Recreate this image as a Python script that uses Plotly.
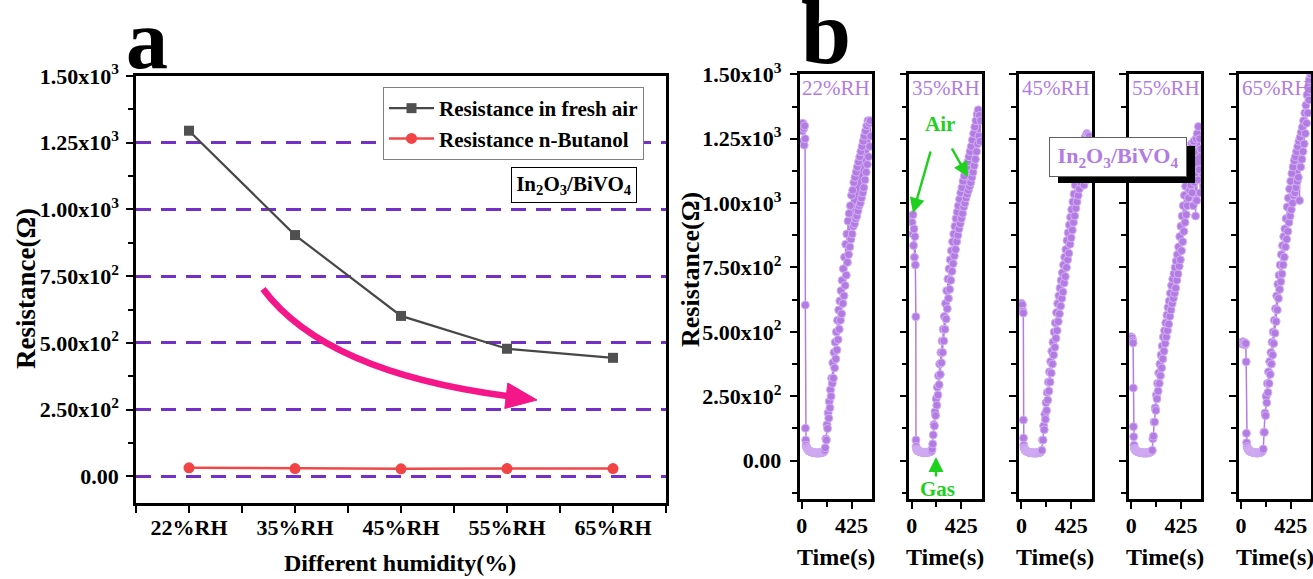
import plotly.graph_objects as go

# ---------------- data ----------------
humidity = ["22%RH", "35%RH", "45%RH", "55%RH", "65%RH"]
r_fresh_air = [1295, 904, 601, 478, 444]
r_butanol = [32, 29, 28, 29, 29]

y_tickvals = [0, 250, 500, 750, 1000, 1250, 1500]
y_ticktext = ["0.00", "2.50x10<sup>2</sup>", "5.00x10<sup>2</sup>", "7.50x10<sup>2</sup>",
              "1.00x10<sup>3</sup>", "1.25x10<sup>3</sup>", "1.50x10<sup>3</sup>"]
y_minor_a = [125, 375, 625, 875, 1125, 1375]
y_minor_b = [-125, 125, 375, 625, 875, 1125, 1375]
time_tickvals = [0, 425]
time_minor = [212.5]

# 22 %RH
t_22_air = [0, 4, 8, 12, 16, 20, 24, 28, 30, 31, 33, 36,
            40, 45, 50, 55, 60, 65, 70, 75, 80, 85, 90, 95, 100, 105, 110, 115, 120, 125, 130, 135,
            140, 145, 150, 155, 160, 165, 170, 175, 180, 185, 190, 195]
r_22_air = [1305, 1280, 1310, 1240, 1290, 1225, 1300, 1250, 604, 126, 80, 60,
            52, 47, 44, 41, 39, 37, 36, 35, 34, 33, 33, 32, 32, 31, 31, 31, 30, 30, 30, 30,
            30, 30, 30, 31, 30, 31, 31, 32, 33, 34, 36, 40]
t_22_rec = [200, 205, 210, 215, 220, 225, 230, 235, 240, 245, 250, 255, 260,
            265, 270, 275, 280, 285, 290, 295, 300, 305, 310, 315, 320, 325, 330,
            335, 340, 345, 350, 355, 360, 365, 370, 375, 380, 385, 390,
            395, 400, 405, 410, 415, 420, 425, 430, 435, 440, 445, 450, 455, 460, 465, 470, 475, 480,
            485, 490, 495, 500, 505, 510, 515, 520,
            525, 530, 535, 540, 545, 550, 555, 560, 565, 570, 575, 580, 585, 590]
r_22_rec = [50, 85, 80, 140, 125, 185, 165, 230, 205, 275, 250, 320, 300,
            380, 320, 420, 360, 460, 395, 500, 430, 545, 470, 585, 510, 620, 545,
            660, 570, 700, 610, 745, 640, 790, 680, 840, 720, 880, 770,
            930, 800, 960, 830, 990, 860, 1030, 880, 1050, 910, 1080, 920, 1100, 940, 1120, 950,
            1140, 970, 1160, 990, 1180, 1000, 1200, 1020, 1220, 1040,
            1240, 1060, 1260, 1090, 1280, 1120, 1300, 1150, 1320, 1180, 1310, 1220, 1320, 1260]

# 35 %RH
t_35_air = [0, 4, 8, 12, 16, 20, 24, 28, 32, 36, 37, 39, 42,
            45, 50, 55, 60, 65, 70, 75, 80, 85, 90, 95, 100, 105, 110, 115, 120, 125, 130,
            135, 140, 145, 150, 155, 160, 165, 170, 175, 180]
r_35_air = [950, 925, 880, 955, 835, 900, 790, 870, 760, 559, 80, 55, 46,
            42, 40, 38, 37, 36, 35, 34, 34, 33, 33, 32, 32, 32, 32, 32, 32, 32, 32,
            33, 33, 33, 34, 34, 35, 36, 38, 45, 65]
t_35_rec = [185, 190, 195, 200, 205, 210, 215, 220, 225, 230, 235, 240, 245, 250, 255, 260, 265, 270,
            275, 280, 285, 290, 295, 300, 305, 310, 315, 320, 325, 330,
            335, 340, 345, 350, 355, 360, 365, 370, 375, 380, 385, 390, 395,
            400, 405, 410, 415, 420, 425, 430, 435, 440, 445, 450, 455,
            460, 465, 470, 475, 480, 485, 490, 495, 500, 505, 510, 515,
            520, 525, 530, 535, 540, 545, 550, 555, 560, 565, 570, 575, 580, 585, 590]
r_35_rec = [100, 140, 135, 190, 175, 240, 215, 285, 255, 330, 295, 375, 335, 420, 380, 465, 420, 510,
            465, 560, 510, 610, 550, 660, 590, 705, 630, 745, 665, 780,
            700, 815, 735, 850, 765, 880, 795, 910, 820, 940, 850, 965, 875,
            990, 900, 1015, 920, 1040, 940, 1060, 960, 1085, 985, 1105, 1000,
            1125, 1020, 1140, 1035, 1160, 1050, 1180, 1065, 1200, 1080, 1220, 1100,
            1245, 1120, 1270, 1145, 1295, 1170, 1320, 1200, 1345, 1230, 1362, 1260, 1340, 1240, 1320]

# 45 %RH
t_45_air = [0, 4, 8, 12, 16, 17, 18, 20, 24, 28,
            30, 35, 40, 45, 50, 55, 60, 65, 70, 75, 80, 85, 90, 95, 100, 105, 110, 115, 120,
            125, 130, 135, 140, 145, 150, 155, 160, 165, 170]
r_45_air = [611, 595, 605, 580, 573, 158, 88, 60, 50, 45,
            42, 40, 38, 36, 35, 34, 33, 33, 32, 32, 31, 31, 31, 30, 30, 30, 30, 30, 30,
            30, 30, 30, 31, 31, 31, 32, 33, 35, 38]
t_45_rec = [175, 180, 185, 190, 195, 200, 205, 210, 215, 220, 225, 230, 235, 240, 245, 250, 255, 260,
            265, 270, 275, 280, 285, 290, 295, 300, 305, 310, 315, 320,
            325, 330, 335, 340, 345, 350, 355, 360, 365, 370, 375, 380,
            385, 390, 395, 400, 405, 410, 415, 420, 425, 430, 435, 440,
            445, 450, 455, 460, 465, 470, 475, 480, 485, 490, 495, 500,
            505, 510, 515, 520, 525, 530, 535, 540, 545, 550, 555, 560, 565, 570, 575, 580, 585, 590, 595]
r_45_rec = [40, 80, 80, 135, 120, 180, 160, 225, 195, 265, 235, 305, 270, 345, 305, 385, 340, 425,
            375, 460, 410, 500, 440, 535, 475, 575, 505, 610, 540, 640,
            570, 670, 600, 700, 630, 730, 655, 760, 690, 790, 715, 820,
            750, 855, 780, 885, 805, 915, 840, 945, 865, 975, 895, 1005,
            925, 1035, 950, 1070, 980, 1100, 1005, 1130, 1030, 1150, 1055, 1170,
            1080, 1190, 1100, 1210, 1110, 1230, 1070, 1250, 1130, 1260, 1090, 1270, 1150, 1265, 1180, 1260, 1200, 1240, 1180]

# 55 %RH
t_55_air = [0, 4, 8, 12, 16, 18, 19, 21, 24, 28,
            30, 35, 40, 45, 50, 55, 60, 65, 70, 75, 80, 85, 90, 95, 100, 105, 110, 115, 120,
            125, 130, 135, 140, 145, 150, 155, 160, 165, 170, 175]
r_55_air = [481, 470, 476, 465, 457, 282, 132, 93, 60, 48,
            44, 41, 39, 37, 36, 35, 34, 33, 33, 32, 32, 31, 31, 31, 30, 30, 30, 30, 30,
            30, 30, 30, 31, 31, 31, 32, 33, 34, 36, 38]
t_55_rec = [180, 185, 190, 195, 200, 205, 210, 215, 220,
            225, 230, 235, 240, 245, 250, 255, 260, 265, 270, 275, 280,
            285, 290, 295, 300, 305, 310, 315, 320, 325, 330, 335, 340, 345, 350,
            355, 360, 365, 370, 375, 380, 385, 390, 395, 400, 405, 410,
            415, 420, 425, 430, 435, 440, 445, 450, 455, 460, 465, 470,
            475, 480, 485, 490, 495, 500, 505, 510, 515, 520, 525, 530, 535, 540, 545, 550,
            555, 560, 565, 570, 575, 580, 585, 590, 595]
r_55_rec = [40, 85, 95, 150, 150, 205, 195, 255, 240,
            300, 270, 340, 300, 375, 330, 410, 360, 445, 395, 480, 425,
            505, 455, 535, 480, 565, 505, 595, 530, 620, 560, 650, 585, 680, 610,
            705, 630, 725, 650, 750, 670, 775, 700, 800, 725, 830, 755,
            870, 780, 910, 815, 950, 850, 990, 890, 1030, 925, 1065, 955,
            1100, 990, 1140, 1020, 1175, 1050, 1200, 1070, 1230, 1040, 1225, 990, 1240, 1080, 1200, 950,
            1250, 1010, 1270, 1090, 1297, 1130, 1250, 1040, 1210]

# 65 %RH
t_65_air = [0, 6, 12, 18, 24, 30, 36, 40, 44, 46, 48, 52, 56,
            60, 65, 70, 75, 80, 85, 90, 95, 100, 105, 110, 115, 120, 125, 130,
            135, 140, 145, 150, 155, 160, 165, 170, 175, 180, 185]
r_65_air = [456, 460, 452, 462, 455, 458, 450, 455, 384, 106, 70, 55, 48,
            44, 41, 39, 37, 36, 35, 34, 33, 33, 32, 32, 31, 31, 31, 30,
            30, 30, 30, 31, 31, 31, 32, 33, 34, 36, 40]
t_65_rec = [190, 195, 200, 205, 210, 215, 220, 225, 230, 235, 240, 245, 250, 255, 260, 265, 270, 275,
            280, 285, 290, 295, 300, 305, 310, 315, 320, 325, 330, 335, 340, 345, 350, 355, 360, 365, 370, 375,
            380, 385, 390, 395, 400, 405, 410, 415, 420, 425, 430, 435, 440, 445, 450, 455, 460, 465, 470, 475,
            480, 485, 490, 495, 500, 505, 510, 515, 520, 525, 530, 535, 540, 545, 550, 555, 560, 565, 570, 575,
            580, 585, 590, 595]
r_65_rec = [45, 110, 110, 185, 175, 250, 225, 300, 265, 345, 300, 385, 335, 420, 375, 460, 410, 500,
            455, 545, 495, 590, 540, 640, 585, 685, 630, 720, 665, 760, 695, 800, 725, 835, 760, 870, 790, 900,
            830, 940, 860, 985, 890, 1020, 925, 1055, 950, 1085, 975, 1115, 1000, 1140, 1030, 1165, 1040, 1180, 1060, 1200,
            1085, 1220, 1100, 1240, 1010, 1255, 1140, 1275, 1170, 1295, 1200, 1320, 1230, 1350, 1270, 1380, 1310, 1420, 1350, 1450,
            1400, 1480, 1440, 1500]

series_b = [(t_22_air + t_22_rec, r_22_air + r_22_rec),
            (t_35_air + t_35_rec, r_35_air + r_35_rec),
            (t_45_air + t_45_rec, r_45_air + r_45_rec),
            (t_55_air + t_55_rec, r_55_air + r_55_rec),
            (t_65_air + t_65_rec, r_65_air + r_65_rec)]

# ---------------- layout helpers ----------------
W, H = 1313, 579
FONT = "Liberation Serif"
PURPLE = "#b27ce2"
GREEN = "#1fd01f"


def px(x):
    return x / W


def py(y):
    return 1 - y / H


fig = go.Figure()

x_pos = list(range(len(humidity)))
fig.add_trace(go.Scatter(x=x_pos, y=r_fresh_air, mode="lines+markers", name="Resistance in fresh air",
                         line=dict(color="#474747", width=2.2),
                         marker=dict(symbol="square", size=10, color="#505050"),
                         xaxis="x", yaxis="y"))
fig.add_trace(go.Scatter(x=x_pos, y=r_butanol, mode="lines+markers", name="Resistance n-Butanol",
                         line=dict(color="#f04848", width=2.5),
                         marker=dict(symbol="circle", size=11, color="#f24444"),
                         xaxis="x", yaxis="y"))

for i, (t, r) in enumerate(series_b):
    fig.add_trace(go.Scatter(x=t, y=r, mode="lines+markers", showlegend=False,
                             line=dict(color=PURPLE, width=1.5),
                             marker=dict(symbol="circle", size=8, color=PURPLE,
                                         line=dict(color="#d4b0f4", width=1)),
                             xaxis=f"x{i + 2}", yaxis=f"y{i + 2}"))

tickfont = dict(family=FONT, size=22, color="black", weight="bold")
common = dict(showline=True, linecolor="black", linewidth=2.5, mirror=True, ticks="outside",
              tickcolor="black", tickwidth=2, ticklen=7, zeroline=False, tickfont=tickfont,
              showgrid=False, fixedrange=True, automargin=False)

layout = dict(
    width=W, height=H, margin=dict(l=0, r=0, t=0, b=0, pad=0, autoexpand=False),
    paper_bgcolor="white", plot_bgcolor="white", showlegend=True,
    legend=dict(x=px(383), y=py(87), xanchor="left", yanchor="top",
                font=dict(family=FONT, size=21, color="black", weight="bold"),
                bordercolor="#808080", borderwidth=1, bgcolor="white",
                tracegroupgap=0, itemwidth=45),
)

layout["xaxis"] = dict(common, domain=[px(136), px(666)], range=[-0.5, 4.5],
                       tickmode="array", tickvals=x_pos, ticktext=humidity, anchor="y",
                       ticklabelstandoff=-4,
                       minor=dict(tickmode="array", tickvals=[-0.5, 0.5, 1.5, 2.5, 3.5, 4.5],
                                  ticks="outside", ticklen=7, tickwidth=2, tickcolor="black"))
layout["yaxis"] = dict(common, domain=[py(503), py(76)], range=[-100, 1500],
                       tickmode="array", tickvals=y_tickvals, ticktext=y_ticktext, anchor="x",
                       ticklabelstandoff=3,
                       showgrid=True, gridcolor="#7430c6", gridwidth=3, griddash="15px,10px",
                       minor=dict(tickmode="array", tickvals=y_minor_a, ticks="outside",
                                  ticklen=5, tickwidth=2, tickcolor="black"))

lefts = [799.5 + 109.8 * i for i in range(5)]
for i, L in enumerate(lefts):
    n = i + 2
    layout[f"xaxis{n}"] = dict(common, domain=[px(L), px(L + 72.5)], range=[-20, 600],
                               tickmode="array", tickvals=time_tickvals, anchor=f"y{n}",
                               ticklabelstandoff=-2,
                               minor=dict(tickmode="array", tickvals=time_minor, ticks="outside",
                                          ticklen=5, tickwidth=2, tickcolor="black"))
    layout[f"yaxis{n}"] = dict(common, domain=[py(499.3), py(74.3)], range=[-150, 1500],
                               tickmode="array", tickvals=y_tickvals, ticktext=y_ticktext,
                               anchor=f"x{n}", showticklabels=(i == 0), ticklabelstandoff=4,
                               minor=dict(tickmode="array", tickvals=y_minor_b, ticks="outside",
                                          ticklen=5, tickwidth=2, tickcolor="black"))

fig.update_layout(**layout)

# ---------------- annotations ----------------
ann = []


def bold(size, color="black"):
    return dict(family=FONT, size=size, color=color, weight="bold")


ann.append(dict(text="a", x=px(147), y=py(40), xref="paper", yref="paper", showarrow=False,
                font=bold(84), xanchor="center", yanchor="middle"))
ann.append(dict(text="b", x=px(826), y=py(32), xref="paper", yref="paper", showarrow=False,
                font=bold(90), xanchor="center", yanchor="middle"))
ann.append(dict(text="Resistance(Ω)", x=px(26), y=py(289), xref="paper", yref="paper", showarrow=False,
                textangle=-90, font=bold(27), xanchor="center", yanchor="middle"))
ann.append(dict(text="Resistance(Ω)", x=px(690), y=py(270), xref="paper", yref="paper", showarrow=False,
                textangle=-90, font=bold(26), xanchor="center", yanchor="middle"))
ann.append(dict(text="Different humidity(%)", x=px(400), y=py(563), xref="paper", yref="paper",
                showarrow=False, font=bold(24), xanchor="center", yanchor="middle"))
for i, L in enumerate(lefts):
    ann.append(dict(text="Time(s)", x=px(L + 36), y=py(557), xref="paper", yref="paper",
                    showarrow=False, font=bold(24), xanchor="center", yanchor="middle"))
    ann.append(dict(text=humidity[i], x=px(L + 1), y=py(88), xref="paper", yref="paper",
                    showarrow=False, font=dict(family=FONT, size=21, color=PURPLE),
                    xanchor="left", yanchor="middle"))

ann.append(dict(text="In<sub>2</sub>O<sub>3</sub>/BiVO<sub>4</sub>", x=px(574), y=py(185),
                xref="paper", yref="paper", showarrow=False, font=bold(21),
                bgcolor="white", bordercolor="black", borderwidth=1, borderpad=3,
                width=118, height=28, xanchor="center", yanchor="middle"))
ann.append(dict(text="In<sub>2</sub>O<sub>3</sub>/BiVO<sub>4</sub>", x=px(1117.5), y=py(157),
                xref="paper", yref="paper", showarrow=False, font=bold(22, PURPLE),
                bgcolor="white", bordercolor="#606060", borderwidth=1, borderpad=4,
                width=128, height=30, xanchor="center", yanchor="middle"))

# green "Air"/"Gas" labels and arrows
ann.append(dict(text="Air", x=px(940), y=py(124), xref="paper", yref="paper", showarrow=False,
                font=bold(21, GREEN), xanchor="center", yanchor="middle"))
ann.append(dict(text="", x=px(913), y=py(213), xref="paper", yref="paper", showarrow=True,
                ax=18, ay=-63, arrowcolor=GREEN, arrowwidth=2.5, arrowhead=2, arrowsize=1.2))
ann.append(dict(text="", x=px(968), y=py(177), xref="paper", yref="paper", showarrow=True,
                ax=-17, ay=-30, arrowcolor=GREEN, arrowwidth=2.5, arrowhead=2, arrowsize=1.2))
ann.append(dict(text="Gas", x=px(937), y=py(489), xref="paper", yref="paper", showarrow=False,
                font=bold(21, GREEN), xanchor="center", yanchor="middle"))
ann.append(dict(text="", x=px(936), y=py(457), xref="paper", yref="paper", showarrow=True,
                ax=0, ay=21, arrowcolor=GREEN, arrowwidth=2.5, arrowhead=2, arrowsize=1.2))

fig.update_layout(annotations=ann)

# ---------------- shapes ----------------
PINK = "#f5168a"
p0, c, p2 = (263, 289), (325, 372), (507, 396)
curve = f"M {px(p0[0])} {py(p0[1])} Q {px(c[0])} {py(c[1])} {px(p2[0])} {py(p2[1])}"
head = (f"M {px(537)} {py(400)} L {px(507.8)} {py(383)} L {px(504.8)} {py(408.5)} Z")
shapes = [
    dict(type="path", path=curve, xref="paper", yref="paper", line=dict(color=PINK, width=6.5),
         layer="above"),
    dict(type="path", path=head, xref="paper", yref="paper", line=dict(color=PINK, width=1),
         fillcolor=PINK, layer="above"),
    dict(type="rect", x0=px(1058), x1=px(1195), y0=py(183), y1=py(146), xref="paper", yref="paper",
         line=dict(width=0), fillcolor="black", layer="above"),
]
fig.update_layout(shapes=shapes)

fig.write_html("out.html", config={"displayModeBar": False},
               post_script="document.body.style.margin='0px';document.body.style.overflow='hidden';")
